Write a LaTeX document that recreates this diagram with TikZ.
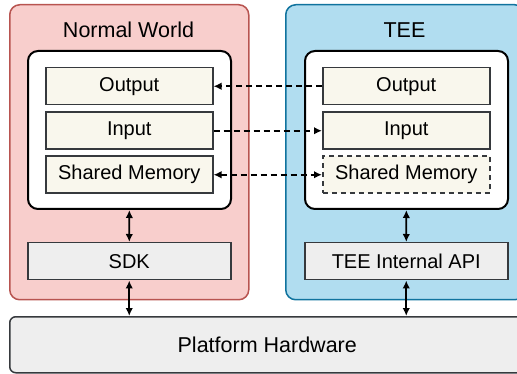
\documentclass[tikz,border=0pt]{standalone}
\usepackage{fontspec}
\setmainfont{Liberation Sans}
\usepackage{tikz}
\usetikzlibrary{arrows.meta}
\definecolor{nwfill}{HTML}{F8CECC}
\definecolor{nwdraw}{HTML}{B85450}
\definecolor{teefill}{HTML}{B1DDF0}
\definecolor{teedraw}{HTML}{10739E}
\definecolor{bufill}{HTML}{F9F7ED}
\definecolor{boxdraw}{HTML}{36393D}
\definecolor{libfill}{HTML}{EEEEEE}
\tikzset{%
    world/.style={%
        anchor=north west,
        rounded corners=10pt,
        line width=1.5pt,
        minimum width=239pt,
        minimum height=295pt,
        inner sep=0pt
    },
    app/.style={%
        anchor=north west,
        draw=black,
        fill=white,
        rounded corners=10pt,
        line width=2pt,
        minimum width=203pt,
        minimum height=158pt,
        inner sep=0pt
    },
    buffer/.style={%
        anchor=north west,
        draw=boxdraw,
        fill=bufill,
        line width=1.5pt,
        minimum width=167pt,
        minimum height=37pt,
        inner sep=0pt,
        font=\fontsize{20}{24}\selectfont
    },
    lib/.style={%
        anchor=north west,
        draw=boxdraw,
        fill=libfill,
        line width=1.5pt,
        minimum width=203pt,
        minimum height=37pt,
        inner sep=0pt,
        font=\fontsize{20}{24}\selectfont
    },
    title/.style={font=\fontsize{21.5}{26}\selectfont, inner sep=0pt},
    link/.style={line width=1.8pt, dash pattern=on 6pt off 4pt},
    both/.style={line width=1.8pt, {Latex[length=8pt,width=7.5pt]}-{Latex[length=8pt,width=7.5pt]}}
}

\begin{document}
\begin{tikzpicture}[x=1pt, y=-1pt, text=black]
\clip (0,0) rectangle (517,374);
\node[world, draw=nwdraw, fill=nwfill] (nw) at (9,4) {};
\node[world, draw=teedraw, fill=teefill] (tee) at (285,4) {};
\node[title] (nwtitle) at (128.5,30) {Normal World};
\node[title] (teetitle) at (404.5,30) {TEE};

\node[app] (nwapp) at (27,50) {};
\node[app] (teeapp) at (304,50) {};

\node[buffer] (nwout) at (45,67) {Output};
\node[buffer] (nwin) at (45,111.5) {Input};
\node[buffer] (nwshm) at (45,155.5) {Shared Memory};
\node[buffer] (teeout) at (322,67) {Output};
\node[buffer] (teein) at (322,111.5) {Input};
\node[buffer, dash pattern=on 5pt off 4pt] (teeshm) at (322,155.5) {Shared Memory};

\node[lib] (sdk) at (27,242) {SDK};
\node[lib] (api) at (304,242) {TEE Internal API};

\node[anchor=north west, draw=boxdraw, fill=libfill, line width=1.5pt, rounded corners=6pt,
    minimum width=515pt, minimum height=56pt, inner sep=0pt,
    font=\fontsize{21.5}{26}\selectfont] (hw) at (9,316) {Platform Hardware};

\draw[link, -{Latex[length=8pt,width=7.5pt]}] (teeout) -- (nwout);
\draw[link, -{Latex[length=8pt,width=7.5pt]}] (nwin) -- (teein);
\draw[link, {Latex[length=8pt,width=7.5pt]}-{Latex[length=8pt,width=7.5pt]}] (nwshm) -- (teeshm);

\draw[both] (nwapp) -- (sdk);
\draw[both] (teeapp) -- (api);
\draw[both] (sdk) -- (sdk.south |- hw.north);
\draw[both] (api) -- (api.south |- hw.north);
\end{tikzpicture}
\end{document}
